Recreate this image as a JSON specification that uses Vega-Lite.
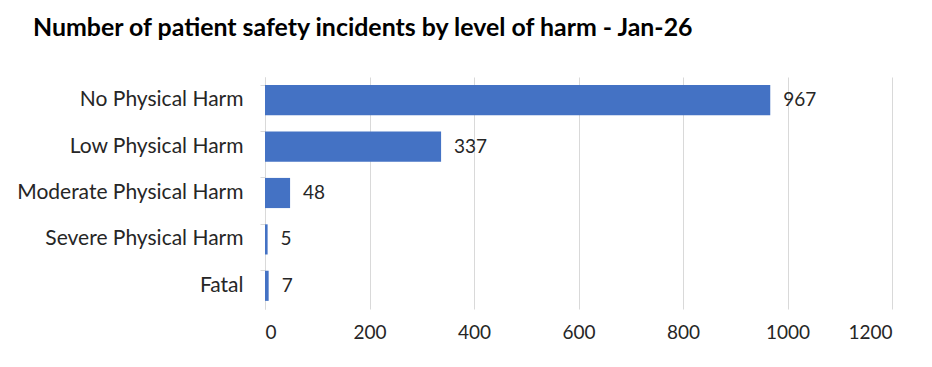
{
  "$schema": "https://vega.github.io/schema/vega-lite/v6.json",
  "width": 627,
  "height": 232,
  "autosize": {"type": "none"},
  "padding": {"left": 265, "top": 77, "right": 40, "bottom": 58},
  "background": "white",
  "title": {
    "text": "Number of patient safety incidents by level of harm - Jan-26",
    "anchor": "start",
    "frame": "group",
    "dx": -232,
    "offset": 36,
    "font": "Lato",
    "fontSize": 24.9,
    "fontWeight": "bold",
    "color": "#000000"
  },
  "data": {
    "values": [
      {"harm": "No Physical Harm", "count": 967},
      {"harm": "Low Physical Harm", "count": 337},
      {"harm": "Moderate Physical Harm", "count": 48},
      {"harm": "Severe Physical Harm", "count": 5},
      {"harm": "Fatal", "count": 7}
    ]
  },
  "encoding": {
    "y": {
      "field": "harm",
      "type": "nominal",
      "sort": null,
      "scale": {"paddingInner": 0.35, "paddingOuter": 0.175},
      "axis": {
        "title": null,
        "bandPosition": 0,
        "domainColor": "#d9d9d9",
        "tickColor": "#d9d9d9",
        "tickSize": 5,
        "labelPadding": 17,
        "labelLimit": 400,
        "labelFont": "Lato",
        "labelFontSize": 21,
        "labelColor": "#262626",
        "grid": false
      }
    },
    "x": {
      "field": "count",
      "type": "quantitative",
      "scale": {"domain": [0, 1200]},
      "axis": {
        "title": null,
        "values": [0, 200, 400, 600, 800, 1000, 1200],
        "format": "d",
        "domain": false,
        "ticks": false,
        "grid": true,
        "gridColor": "#d9d9d9",
        "labelPadding": 14,
        "labelFont": "Lato",
        "labelFontSize": 19,
        "labelColor": "#262626"
      }
    }
  },
  "layer": [
    {"mark": {"type": "bar", "color": "#4472C4"}},
    {
      "mark": {"type": "text", "align": "left", "baseline": "middle", "dx": 13, "font": "Lato", "fontSize": 19, "color": "#262626"},
      "encoding": {"text": {"field": "count", "type": "quantitative", "format": "d"}}
    }
  ],
  "config": {"view": {"stroke": null}}
}
